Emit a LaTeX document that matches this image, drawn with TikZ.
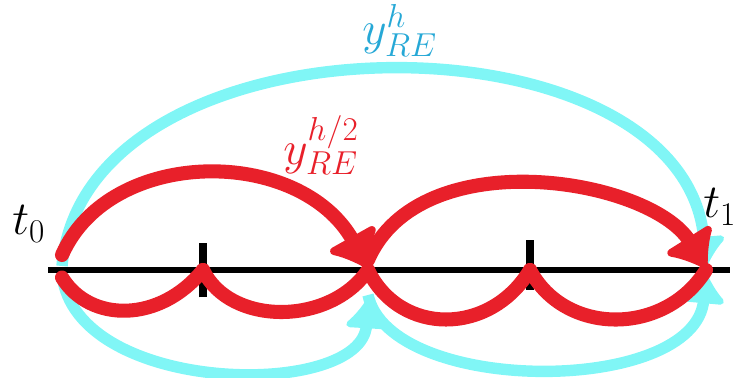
\documentclass[tikz,border=0pt]{standalone}
\usepackage{fix-cm}
\usetikzlibrary{arrows.meta}
\definecolor{rered}{RGB}{232,32,42}
\definecolor{recyan}{RGB}{128,246,246}
\definecolor{relabel}{RGB}{38,168,214}

\begin{document}
\begin{tikzpicture}[
    x=0.02cm, y=0.02cm,
    font=\fontsize{27}{32}\selectfont,
    axis/.style={line width=3.4pt, black},
    tick/.style={line width=4.5pt, black},
    coarse/.style={line width=6.5pt, recyan, -{Latex[length=18pt,width=30pt,round]}},
    fine/.style={line width=8pt, rered, line cap=round},
    finearrow/.style={fine, -{Latex[length=22pt,width=38pt,round]}},
  ]
  \useasboundingbox (0,0) rectangle (736,378);
  % points on the time axis
  \coordinate (t0) at (62,108);
  \coordinate (ta) at (203,108);
  \coordinate (tm) at (368,108);
  \coordinate (tb) at (530,108);
  \coordinate (t1) at (706,108);
  \coordinate (axs) at (48,108);
  \coordinate (axe) at (730,108);

  % axis and ticks
  \draw[axis] (axs) -- (axe);
  \draw[tick] ([yshift=-0.55cm]ta) -- ([yshift=0.55cm]ta);
  \draw[tick] ([yshift=-0.4cm]tb) -- ([yshift=0.6cm]tb);

  % one step of size h
  \draw[coarse] ([yshift=0.08cm]t0) .. controls (85,372) and (685,372) .. ([yshift=0.1cm]t1);
  \draw[coarse] ([yshift=-0.08cm]t0) .. controls (75,-18) and (362,-22) .. ([yshift=-0.6cm]tm);
  \draw[coarse] ([yshift=-0.5cm]tm) .. controls (390,-18) and (695,-18) .. ([yshift=-0.1cm]t1);

  % two steps of size h/2
  \draw[finearrow] ([yshift=0.3cm]t0) .. controls (110,232) and (300,232) .. ([yshift=0.05cm]tm);
  \draw[finearrow] ([yshift=0.2cm]tm) .. controls (420,238) and (650,200) .. ([yshift=0.05cm]t1);
  \draw[fine] ([yshift=-0.15cm]t0) .. controls (90,55) and (160,55) .. (ta);
  \draw[fine] (ta) .. controls (230,52) and (330,52) .. (tm);
  \draw[fine] (tm) .. controls (400,42) and (490,42) .. (tb);
  \draw[fine] (tb) .. controls (565,42) and (665,42) .. (t1);

  % labels
  \node[anchor=base west, inner sep=0pt] (lt0) at (12,143) {$t_0$};
  \node[anchor=base west, inner sep=0pt] (lt1) at (703,160) {$t_1$};
  \node[anchor=base west, inner sep=0pt, text=relabel] (lh) at (362,333) {$y_{RE}^{h}$};
  \node[anchor=base west, inner sep=0pt, text=rered] (lh2) at (283,213) {$y_{RE}^{h/2}$};
\end{tikzpicture}
\end{document}
